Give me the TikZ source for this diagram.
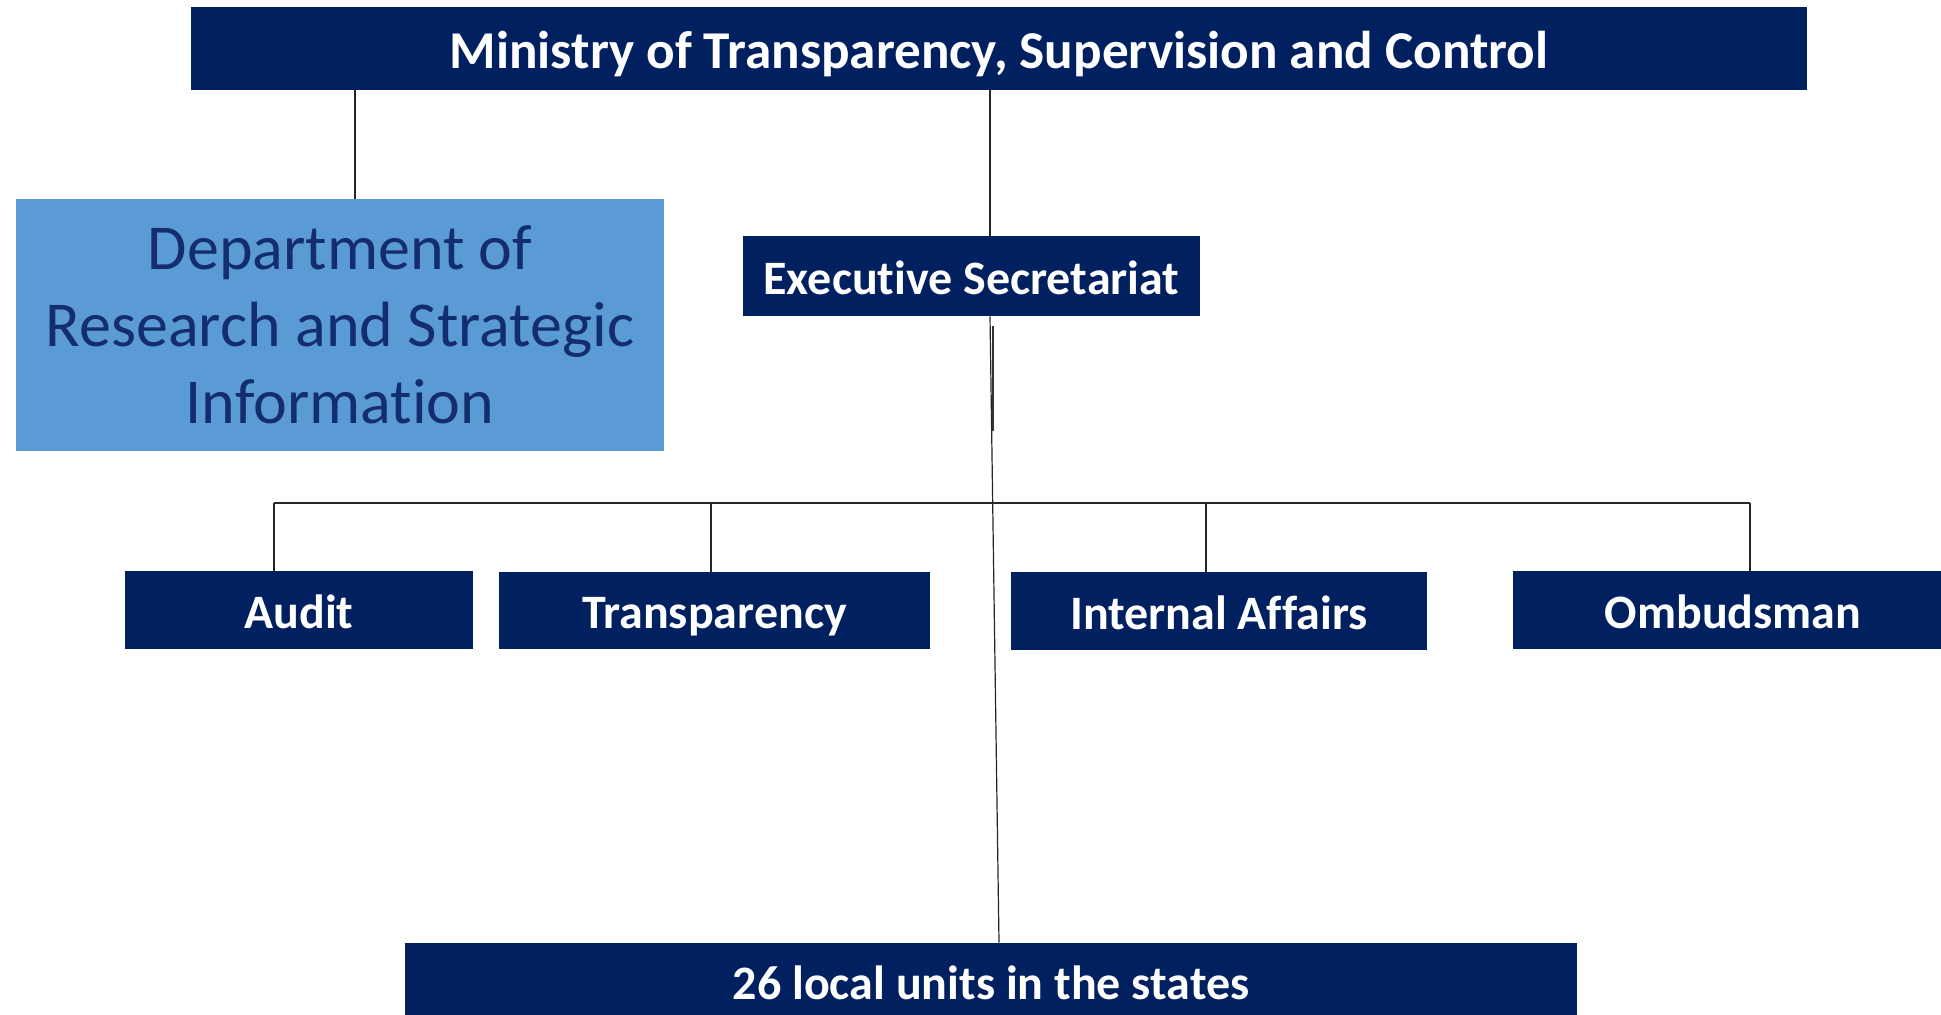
\documentclass[tikz,border=0pt]{standalone}
\usepackage{fontspec}
\setmainfont[Ligatures={NoCommon}]{Carlito}
\definecolor{navy}{RGB}{0,32,96}
\definecolor{lightblue}{RGB}{91,155,213}
\definecolor{depttext}{RGB}{20,45,110}
\begin{document}
\begin{tikzpicture}[x=0.5pt,y=-0.5pt,
  box/.style={draw=none,fill=navy,text=white,font=\bfseries\fontsize{24}{28}\selectfont,inner sep=0pt,anchor=center,text height=18.5pt,text depth=0.5pt},
  conn/.style={draw=black!85,line width=0.6pt}]
\useasboundingbox (0,0) rectangle (1941,1014);
\node[box,minimum width=808pt,minimum height=41.5pt,font=\bfseries\fontsize{26.6}{30}\selectfont,text height=20.1pt,text depth=0.5pt] (top) at (999,48.5) {Ministry of Transparency, Supervision and Control};
\node[fill=lightblue,text=depttext,minimum width=324pt,minimum height=126pt,inner sep=0pt,align=center,font=\fontsize{32}{38.5}\selectfont] (dept) at (340,325) {Department of\\Research and Strategic\\Information};
\node[box,minimum width=228.5pt,minimum height=40pt] (exec) at (971.5,276) {Executive Secretariat};
\node[box,minimum width=174pt,minimum height=39pt] (audit) at (299,610) {Audit};
\node[box,minimum width=215.5pt,minimum height=38.5pt] (transp) at (714.5,610.5) {Transparency};
\node[box,minimum width=208pt,minimum height=39pt] (internal) at (1219,611) {Internal Affairs};
\node[box,minimum width=214pt,minimum height=39pt] (ombud) at (1727,610) {\hspace*{6pt}Ombudsman};
\node[box,minimum width=586pt,minimum height=38pt] (local) at (991,981) {26 local units in the states};
\coordinate (bl) at (274,503);
\coordinate (br) at (1750,503);
\draw[conn] (top.south -| 355,0) -- (dept.north -| 355,0);
\draw[conn] (top.south -| 990,0) -- (exec.north -| 990,0);
\draw[conn] (exec.south -| 990,0) -- (local.north -| 999,0);
\draw[draw=black!80,line width=1pt] (993,326) -- (993,431);
\draw[conn] (bl) -- (br);
\draw[conn] (bl) -- (audit.north -| bl);
\draw[conn] (bl -| 711,0) -- (transp.north -| 711,0);
\draw[conn] (bl -| 1206,0) -- (internal.north -| 1206,0);
\draw[conn] (br) -- (ombud.north -| br);
\end{tikzpicture}
\end{document}
